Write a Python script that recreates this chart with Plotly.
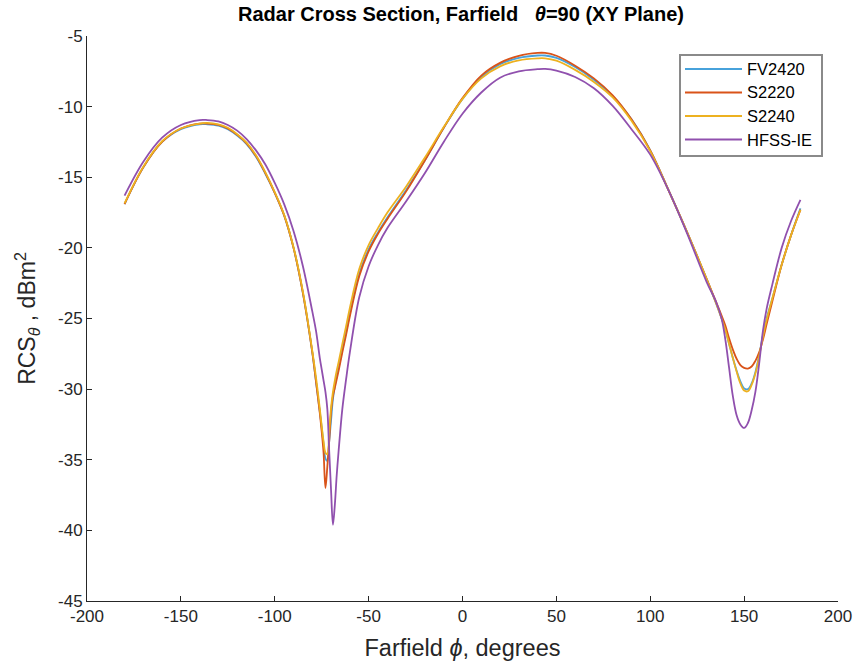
import plotly.graph_objects as go

# Farfield azimuth angle (degrees), shared by all four solvers
phi = [-180, -170, -160, -150, -140, -136, -130, -125, -120, -115, -110, -105,
       -100, -95, -90, -85, -80, -78, -76, -75, -74, -73, -72, -71, -70, -69,
       -68, -67, -66, -64, -62, -60, -55, -50, -45, -40, -30, -20, -10, 0,
       10, 20, 30, 40, 44, 50, 60, 70, 80, 90, 100, 110, 120, 130, 135, 138,
       140, 142, 144, 146, 148, 150, 152, 154, 156, 158, 160, 162, 165, 170,
       175, 180]

# RCS theta component, dBm^2
rcs_fv2420 = [-16.9, -14.3, -12.5, -11.6, -11.25, -11.25, -11.35, -11.6, -12.05, -12.65, -13.55, -14.75,
              -16.1, -17.7, -20.0, -23.2, -27.4, -29.5, -31.6, -32.7, -33.9, -34.9, -35.1, -33.7, -32.2, -30.7,
              -29.8, -29.1, -28.5, -27.2, -25.95, -24.65, -21.85, -20.1, -18.9, -17.85, -15.9, -13.8, -11.5, -9.45,
              -7.9, -7.0, -6.55, -6.38, -6.38, -6.55, -7.2, -8.1, -9.25, -10.9, -13.1, -16.0, -19.0, -22.2, -23.9, -25.0,
              -25.8, -26.8, -27.8, -28.7, -29.45, -29.95, -30.0, -29.6, -28.8, -27.6, -26.2, -25.0, -23.6, -21.2,
              -19.1, -17.2]

rcs_s2220 = [-16.9, -14.3, -12.5, -11.55, -11.2, -11.2, -11.3, -11.55, -12.0, -12.6, -13.5, -14.7,
             -16.1, -17.7, -20.0, -23.2, -27.4, -29.5, -31.7, -33.0, -34.5, -37.0, -35.5, -33.7, -31.6, -30.5,
             -29.9, -29.3, -28.7, -27.4, -26.15, -24.85, -22.0, -20.25, -19.0, -17.95, -16.0, -13.8, -11.5, -9.4,
             -7.8, -6.9, -6.4, -6.2, -6.2, -6.4, -7.1, -8.0, -9.2, -10.9, -13.1, -16.0, -19.0, -22.2, -23.8, -24.8,
             -25.5, -26.4, -27.2, -27.85, -28.3, -28.5, -28.55, -28.4, -28.0, -27.4, -26.5, -25.4, -23.8, -21.2,
             -19.1, -17.3]

rcs_s2240 = [-16.85, -14.25, -12.45, -11.55, -11.2, -11.15, -11.25, -11.5, -11.95, -12.55, -13.45, -14.65,
             -16.05, -17.65, -19.95, -23.1, -27.3, -29.2, -31.4, -32.6, -33.7, -34.5, -34.6, -33.0, -31.3, -30.2,
             -29.4, -28.7, -28.1, -26.8, -25.55, -24.25, -21.5, -19.8, -18.6, -17.5, -15.65, -13.6, -11.45, -9.45,
             -8.0, -7.15, -6.72, -6.58, -6.58, -6.75, -7.4, -8.25, -9.35, -11.0, -13.15, -16.0, -19.0, -22.2, -23.9, -25.0,
             -25.8, -26.8, -27.8, -28.75, -29.6, -30.1, -30.15, -29.7, -28.9, -27.7, -26.3, -25.1, -23.6, -21.2,
             -19.1, -17.3]

rcs_hfss = [-16.3, -13.9, -12.2, -11.3, -10.95, -10.95, -11.05, -11.3, -11.7, -12.3, -13.1, -14.1,
            -15.4, -16.9, -18.8, -21.3, -24.5, -25.9, -27.8, -28.6, -29.4, -30.2, -31.4, -34.4, -37.2, -39.6,
            -38.2, -36.1, -34.4, -31.4, -29.3, -27.4, -23.5, -21.3, -19.8, -18.6, -16.7, -14.7, -12.5, -10.5,
            -9.0, -7.95, -7.5, -7.35, -7.33, -7.45, -7.9, -8.7, -9.95, -11.6, -13.4, -16.0, -19.1, -22.4, -23.8, -25.0,
            -26.5, -28.5, -30.5, -31.85, -32.5, -32.75, -32.4, -31.5, -30.2, -28.2, -25.9, -24.3, -22.6, -20.0,
            -18.1, -16.6]

series_names = ["FV2420", "S2220", "S2240", "HFSS-IE"]
series_values = [rcs_fv2420, rcs_s2220, rcs_s2240, rcs_hfss]
series_colors = ["#47A2DB", "#D95319", "#EDB120", "#9050AE"]

x_ticks = [-200, -150, -100, -50, 0, 50, 100, 150, 200]
y_ticks = [-45, -40, -35, -30, -25, -20, -15, -10, -5]

axis_color = "#262626"
font_family = "Liberation Sans, Arial, sans-serif"

# plot area in pixels (858 x 671 canvas)
L, R, T, B = 87, 20, 36, 70
W, H = 858, 671
pw, ph = W - L - R, H - T - B


def px_x(px):
    return (px - L) / pw


def px_y(py):
    return (H - B - py) / ph


fig = go.Figure()
for name, values, color in zip(series_names, series_values, series_colors):
    fig.add_trace(go.Scatter(
        x=phi, y=values, name=name, mode="lines",
        line=dict(color=color, width=1.8, shape="spline", smoothing=1.0),
        showlegend=False,
    ))

# boxed legend with long sample lines
shapes = [dict(type="rect", xref="paper", yref="paper",
               x0=px_x(680), x1=px_x(822), y0=px_y(156), y1=px_y(55),
               line=dict(color="#8a8a8a", width=2), fillcolor="white", layer="above")]
annotations = []
row_y = [69, 92.5, 116, 139.5]
for name, color, ry in zip(series_names, series_colors, row_y):
    shapes.append(dict(type="line", xref="paper", yref="paper",
                       x0=px_x(685), x1=px_x(742), y0=px_y(ry), y1=px_y(ry),
                       line=dict(color=color, width=2), layer="above"))
    annotations.append(dict(xref="paper", yref="paper", x=px_x(745), y=px_y(ry),
                            xanchor="left", yanchor="middle", showarrow=False,
                            text=name, font=dict(size=16.5, color="black")))

fig.update_layout(
    width=W, height=H,
    margin=dict(l=L, r=R, t=T, b=B, autoexpand=False),
    paper_bgcolor="white", plot_bgcolor="white",
    font=dict(family=font_family, color=axis_color, size=17),
    title=dict(
        text="<b>Radar Cross Section, Farfield   <i>θ</i>=90 (XY Plane)</b>",
        x=461 / W, xanchor="center", y=1 - 14 / H, yanchor="middle",
        font=dict(size=20, color="black"),
    ),
    shapes=shapes,
    annotations=annotations,
)

fig.update_xaxes(
    range=[-200, 200], tickvals=x_ticks, ticktext=[str(v) for v in x_ticks],
    showline=True, linecolor=axis_color, linewidth=1, mirror=False, automargin=False,
    ticks="inside", ticklen=5, tickcolor=axis_color, showgrid=False, zeroline=False,
    tickfont=dict(size=17),
    title=dict(text="Farfield <i>ϕ</i>, degrees", font=dict(size=23.5, color=axis_color), standoff=14),
)
fig.update_yaxes(
    range=[-45, -5], tickvals=y_ticks, ticktext=[str(v) for v in y_ticks],
    showline=True, linecolor=axis_color, linewidth=1, mirror=False, automargin=False,
    ticks="inside", ticklen=5, tickcolor=axis_color, showgrid=False, zeroline=False,
    tickfont=dict(size=17),
    title=dict(text="RCS<sub><i>θ</i></sub> , dBm<sup>2</sup>", font=dict(size=23, color=axis_color), standoff=15),
)

fig.write_html("out.html")
